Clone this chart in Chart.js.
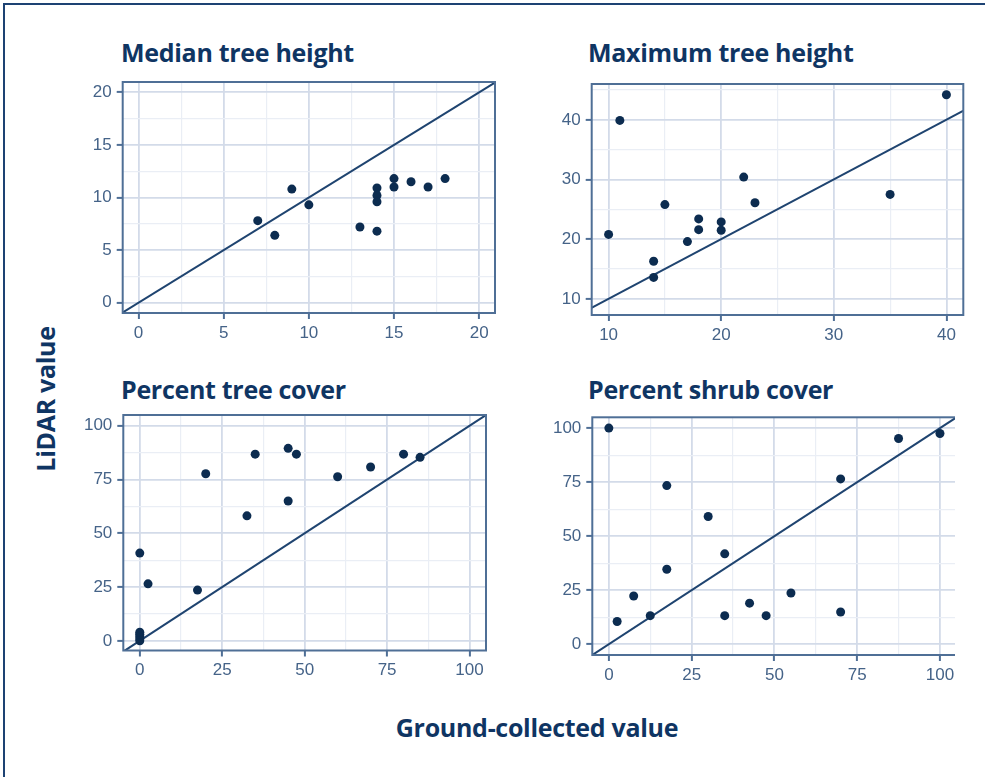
<!DOCTYPE html>
<html>
<head>
<meta charset="utf-8">
<script src="https://cdn.jsdelivr.net/npm/chart.js@4/dist/chart.umd.min.js"></script>
<style>
  body { margin: 0; width: 985px; height: 777px; background: #fff; position: relative; overflow: hidden; font-family: "Open Sans", sans-serif; }
  .frame { position: absolute; left: 3px; top: 3px; width: 1000px; height: 800px; border-top: 2px solid #1d4273; border-left: 2px solid #1d4273; }
  .title { position: absolute; font: bold 25px "Open Sans", sans-serif; line-height: 24px; color: #0f3563; white-space: nowrap; letter-spacing: -0.3px; }
  .panel { position: absolute; overflow: hidden; }
  .panel canvas { position: absolute; left: 0; top: 0; }
</style>
</head>
<body>
<div class="frame"></div>

<div class="title" style="left:121px;top:40px">Median tree height</div>
<div class="title" style="left:588px;top:40px">Maximum tree height</div>
<div class="title" style="left:121px;top:377px">Percent tree cover</div>
<div class="title" style="left:588px;top:377px">Percent shrub cover</div>
<div class="title" style="left:45px;top:399px;transform:translate(-50%,-50%) rotate(-90deg)">LiDAR value</div>
<div class="title" style="left:537px;top:715px;transform:translateX(-50%)">Ground-collected value</div>

<div class="panel" id="p1"><canvas id="c1"></canvas></div>
<div class="panel" id="p2"><canvas id="c2"></canvas></div>
<div class="panel" id="p3"><canvas id="c3"></canvas></div>
<div class="panel" id="p4"><canvas id="c4"></canvas></div>

<script>
// Datos: valor de campo (x) contra valor LiDAR (y)
const medianGround = [7, 8, 9, 10, 13, 14, 14, 14, 14, 15, 15, 16, 17, 18];
const medianLidar  = [7.8, 6.4, 10.8, 9.3, 7.2, 6.8, 10.9, 10.2, 9.6, 11.8, 11.0, 11.5, 11.0, 11.8];

const maxGround = [10, 11, 14, 14, 15, 17, 18, 18, 20, 20, 22, 23, 35, 40];
const maxLidar  = [20.8, 39.9, 16.3, 13.6, 25.8, 19.6, 23.4, 21.6, 22.9, 21.5, 30.4, 26.1, 27.5, 44.2];

const treeGround = [0, 0, 0, 0, 0, 0, 2.5, 17.5, 20, 32.5, 35, 45, 45, 47.5, 60, 70, 80, 85];
const treeLidar  = [40.8, 0, 1, 2, 3, 4, 26.5, 23.6, 77.7, 58.1, 86.8, 89.5, 65.0, 86.8, 76.3, 80.8, 86.8, 85.3];

const shrubGround = [0, 2.5, 7.5, 12.5, 17.5, 17.5, 30, 35, 35, 42.5, 47.5, 55, 70, 70, 87.5, 100];
const shrubLidar  = [100, 10.5, 22.3, 13.2, 73.4, 34.7, 59.1, 41.8, 13.2, 19.0, 13.2, 23.7, 76.5, 14.9, 95.2, 97.5];

// Marcas de los ejes
const medianTicks = [0, 5, 10, 15, 20];
const maxTicks = [10, 20, 30, 40];
const coverTicks = [0, 25, 50, 75, 100];

const axisColor = "#4f6f96";
const labelColor = "#456388";
const pointColor = "#0c2c50";
const lineColor = "#1f4470";

// Marco del área de dibujo
const panelBorder = {
  id: "panelBorder",
  afterDraw(chart) {
    const { ctx, chartArea: a } = chart;
    ctx.save();
    ctx.strokeStyle = axisColor;
    ctx.lineWidth = 2;
    ctx.strokeRect(a.left, a.top, a.right - a.left, a.bottom - a.top);
    ctx.restore();
  }
};

// Marcas principales + secundarias a mitad de camino
function withMinor(ticks, min, max) {
  const step = ticks[1] - ticks[0];
  const all = [];
  for (let v = ticks[0] - step; v <= ticks[ticks.length - 1] + step; v += step / 2) {
    if (v >= min && v <= max) all.push(v);
  }
  return all;
}

function axis(ticks, range, fitSize, isX) {
  const isMajor = (v) => ticks.includes(v);
  return {
    type: "linear",
    min: range[0],
    max: range[1],
    afterBuildTicks: (s) => { s.ticks = withMinor(ticks, range[0], range[1]).map(v => ({ value: v })); },
    afterFit: (s) => { if (isX) s.height = fitSize; else s.width = fitSize; },
    border: { display: false },
    grid: {
      color: (c) => c.tick && isMajor(c.tick.value) ? "#d3dbe9" : "#eaeef5",
      lineWidth: (c) => c.tick && isMajor(c.tick.value) ? 1.8 : 1.2,
      tickColor: (c) => c.tick && isMajor(c.tick.value) ? axisColor : "rgba(0,0,0,0)",
      tickLength: 6,
      tickWidth: 2
    },
    ticks: {
      autoSkip: false,
      maxRotation: 0,
      padding: isX ? 4 : 5,
      color: labelColor,
      font: { family: "Liberation Sans, Arial, sans-serif", size: 17 },
      callback: (v) => isMajor(v) ? String(v) : ""
    }
  };
}

function makePanel(id, ground, lidar, ticks, xRange, yRange, box, clipRight) {
  const wrap = document.getElementById("p" + id);
  const canvas = document.getElementById("c" + id);
  const left = Math.floor(box.l - 62);
  const top = Math.floor(box.t - 16);
  const width = Math.ceil(box.r + 22) - left;
  const height = Math.ceil(box.b + 34) - top;
  wrap.style.left = left + "px";
  wrap.style.top = top + "px";
  wrap.style.width = (clipRight ? Math.min(width, clipRight - left) : width) + "px";
  wrap.style.height = height + "px";
  canvas.width = width;
  canvas.height = height;
  canvas.style.width = width + "px";
  canvas.style.height = height + "px";

  const lo = Math.min(xRange[0], yRange[0]) - 10;
  const hi = Math.max(xRange[1], yRange[1]) + 10;

  new Chart(canvas, {
    type: "scatter",
    data: {
      datasets: [
        {
          data: ground.map((g, i) => ({ x: g, y: lidar[i] })),
          backgroundColor: pointColor,
          borderWidth: 0,
          pointRadius: 4.5,
          order: 1
        },
        {
          // línea 1:1
          data: [{ x: lo, y: lo }, { x: hi, y: hi }],
          showLine: true,
          borderColor: lineColor,
          borderWidth: 2,
          pointRadius: 0,
          order: 2
        }
      ]
    },
    options: {
      responsive: false,
      animation: false,
      layout: { padding: { top: box.t - top, right: left + width - box.r, left: 0, bottom: 0 } },
      plugins: { legend: { display: false }, tooltip: { enabled: false } },
      scales: {
        x: axis(ticks, xRange, top + height - box.b, true),
        y: axis(ticks, yRange, box.l - left, false)
      }
    },
    plugins: [panelBorder]
  });
}

makePanel(1, medianGround, medianLidar, medianTicks, [-0.93, 20.93], [-0.98, 20.98], { l: 122.7, t: 82, r: 495, b: 313 });
makePanel(2, maxGround, maxLidar, maxTicks, [8.5, 41.5], [7.3, 46.0], { l: 591.7, t: 84, r: 963.3, b: 315 });
makePanel(3, treeGround, treeLidar, coverTicks, [-5, 105], [-4.5, 105], { l: 123.3, t: 415, r: 486, b: 650.5 });
makePanel(4, shrubGround, shrubLidar, coverTicks, [-5, 105], [-5, 105], { l: 592.3, t: 417.3, r: 956.5, b: 655 }, 955);
</script>
</body>
</html>
